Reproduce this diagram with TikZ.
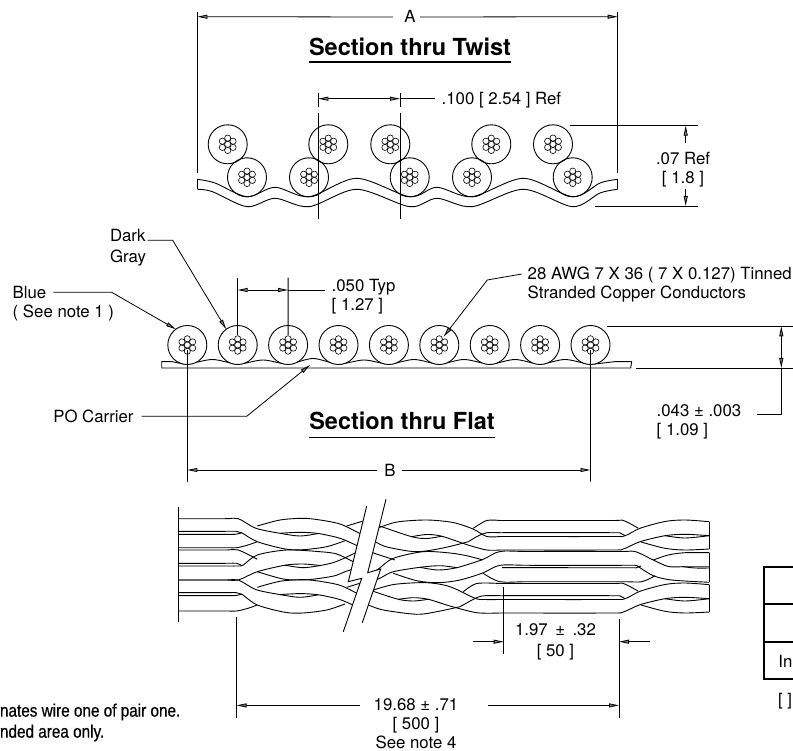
\documentclass[tikz,border=0pt]{standalone}
\usepackage{fontspec}
\setmainfont{TeX Gyre Heros}
\newfontfamily\notefont[FakeStretch=0.85,FakeBold=0.5]{Liberation Sans}
\usetikzlibrary{arrows.meta}

\tikzset{
    dimtip/.tip={Triangle[length=10pt,width=4pt,fill=gray]},
    dim/.style={line width=.8pt},
    wire/.style={line width=.9pt,tension=.5},
    cable/.style={circle,draw,line width=.9pt,minimum size=39pt,inner sep=0pt,outer sep=0pt},
    strand/.style={line width=.6pt},
    txt/.style={inner sep=0pt,outer sep=0pt,text height=12pt,text depth=0pt},
    txtblock/.style={inner sep=0pt,outer sep=0pt,align=left,anchor=north west},
    title/.style={inner sep=0pt,outer sep=0pt,text height=17pt,text depth=0pt,font=\fontsize{23.5}{26}\selectfont\bfseries},
    titlerule/.style={line width=1.6pt},
    notetxt/.style={inner sep=0pt,outer sep=0pt,anchor=west,font=\fontsize{18}{20}\notefont},
    tablerule/.style={line width=2.2pt}
}
\newcommand{\strands}[1]{
    \draw[strand] (#1.center) circle (3.1pt);
    \foreach \a in {30,90,...,330} {
        \draw[strand] ([shift={(\a:6.2pt)}]#1.center) circle (3.1pt);
    }
}

\begin{document}
\begin{tikzpicture}[x=1pt,y=-1pt,font=\fontsize{16.8}{19}\selectfont]
    \useasboundingbox (0,0) rectangle (793,751);
    \clip (0,0) rectangle (793,751);

    % section thru twist
    \node[txt] (dimA) at (410,17) {A};
    \node[title] (titleTwist) at (410,46.7) {Section thru Twist};
    \draw[titlerule] ([yshift=-7pt]titleTwist.south west) -- ([yshift=-7pt]titleTwist.south east);
    \coordinate (twistL) at (197.3,16.7);
    \coordinate (twistR) at (617.7,16.7);
    \draw[dim] (197.3,12) -- (197.3,173);
    \draw[dim] (617.7,12) -- (617.7,173);
    \draw[dim,-dimtip] ([xshift=-17pt]dimA.center) -- (twistL);
    \draw[dim,-dimtip] ([xshift=10pt]dimA.center) -- (twistR);

    \draw[wire] plot[smooth] coordinates {(197.3,179.3)(215,183)(247,196.7)(275,187.3)(309,196.7)(356.7,178.3)(409.7,196.7)(436.7,187.3)(472,196.7)(523.3,178.3)(572.7,196.7)(600,183)(617.7,179.3)};
    \draw[wire] plot[smooth] coordinates {(197.3,189.3)(212,191.5)(247,206.7)(275,198.3)(309,206.7)(356.7,189.3)(409.7,206.7)(437,198.3)(472,206.7)(523.3,189.3)(572.7,206.7)(600,193)(617.7,189.3)};
    \draw[wire] (197.3,179.3) -- (197.3,189.3);
    \draw[wire] (617.7,179.3) -- (617.7,189.3);

    \foreach \n/\x/\y in {1/227.7/144.3,2/328.3/144.3,3/390.3/144.3,4/491.3/144.3,5/553/144.3,6/247/177.3,7/309/177.3,8/409.7/177.3,9/472/177.3,10/572.7/177.3} {
        \node[cable] (twist\n) at (\x,\y) {};
        \strands{twist\n}
    }

    \node[txt,anchor=west] (pitchTwist) at (441.7,98.5) {.100 [ 2.54 ] Ref};
    \coordinate (pitchL) at (318.3,98.7);
    \coordinate (pitchR) at (400,98.7);
    \draw[dim] (318.3,93) -- (318.3,107);
    \draw[dim] (400,93) -- (400,107);
    \draw[dim] (318.3,113) -- (318.3,219);
    \draw[dim] (400,113) -- (400,219);
    \draw[dim,dimtip-dimtip] (pitchL) -- (pitchR);
    \draw[dim] (pitchR) -- (435,98.7);

    \node[txtblock,align=center,anchor=north] (heightTwist) at (683,152.3) {.07 Ref\\{[ 1.8 ]}};
    \draw[dim] (570,125.7) -- (697.7,125.7);
    \draw[dim] (595,206) -- (697.7,206);
    \coordinate (heightTop) at (685.7,125.7);
    \coordinate (heightBot) at (685.7,206);
    \draw[dim,-dimtip] (685.7,143.3) -- (heightTop);
    \draw[dim,-dimtip] (685.7,189.3) -- (heightBot);

    % section thru flat
    \draw[wire,fill=white] plot[smooth] coordinates {(161.7,361.7)(172,361.7)(187.3,364)(212.5,359.5)(237.7,364)(263,360)(288,364)(313,358.5)(338.5,364)(364,360)(389,364)(414,359.5)(439,364)(464,359.5)(490,364)(515,359.5)(540,364)(565,359.5)(590,364)(615,361.7)(631.7,361.7)} -- (630.7,368) -- (161.7,368) -- cycle;
    \foreach \n [evaluate=\n as \xx using 187.3+50.4*(\n-1)] in {1,...,9} {
        \node[cable,fill=white] (flat\n) at (\xx,345) {};
        \strands{flat\n}
    }

    \node[title] (titleFlat) at (402,421) {Section thru Flat};
    \draw[titlerule] ([yshift=-8pt]titleFlat.south west) -- ([yshift=-8pt]titleFlat.south east);

    \node[txtblock] (gray) at (110,229.7) {Dark\\[2pt]Gray};
    \coordinate (grayFrom) at (147.7,240.3);
    \draw[dim,-dimtip] (grayFrom) -- (172.7,240.3) -- (flat2.126);

    \node[txtblock] (blue) at (12.7,286.3) {Blue\\( See note 1 )};
    \coordinate (blueFrom) at (53.3,292.3);
    \draw[dim,-dimtip] (blueFrom) -- (111.7,292.3) -- (flat1.126);

    \node[txt,anchor=west] (carrier) at (53.3,416.3) {PO Carrier};
    \coordinate (carrierTip) at (310,365);
    \draw[dim,-dimtip] ([xshift=8pt]carrier.east) -- (246.7,416.3) -- (carrierTip);

    \node[txtblock] (pitchFlat) at (331.7,279.7) {.050 Typ\\{[ 1.27 ]}};
    \draw[dim] ([yshift=10pt]flat2.center) -- (237.7,277.7);
    \draw[dim] ([yshift=10pt]flat3.center) -- (288.1,277.7);
    \coordinate (flatPitchL) at (237.7,290);
    \coordinate (flatPitchR) at (288.1,290);
    \draw[dim,dimtip-dimtip] (flatPitchL) -- (flatPitchR);
    \draw[dim] (flatPitchR) -- (325,290);

    \node[txtblock] (awg) at (527.7,267.3) {28 AWG 7 X 36 ( 7 X 0.127) Tinned\\[-.6pt]Stranded Copper Conductors};
    \draw[dim,-dimtip] ([shift={(-6pt,-6.7pt)}]awg.north west) -- (487.3,280) -- ([shift={(4.3pt,8.3pt)}]flat6.center);

    \node[txtblock] (thick) at (656.7,404.7) {.043 ± .003\\[-.4pt]{[ 1.09 ]}};
    \draw[dim] (606.7,326.3) -- (793,326.3);
    \draw[dim] (636,368) -- (793,368);
    \coordinate (thickTop) at (781.3,326.3);
    \coordinate (thickBot) at (781.3,368);
    \draw[dim,dimtip-dimtip] (thickTop) -- (thickBot);
    \draw[dim] (thickBot) -- (781.3,414.3) -- (756.7,414.3);

    \node[txt] (dimB) at (390,470) {B};
    \coordinate (flatL) at (187.3,470);
    \coordinate (flatR) at (590.5,470);
    \draw[dim] ([yshift=-5pt]flat1.center) -- (187.3,481.7);
    \draw[dim] ([yshift=-5pt]flat9.center) -- (590.5,481.7);
    \draw[dim,-dimtip] ([xshift=-13pt]dimB.center) -- (flatL);
    \draw[dim,-dimtip] ([xshift=12pt]dimB.center) -- (flatR);

    % twisted ribbon, left of the break
    \draw[wire] (178.3,507.3) -- (178.3,621.7);
    \foreach \yo/\yb in {0/0,61.3/2} {
        \begin{scope}[yshift=-\yo pt]
            \draw[wire] plot[smooth] coordinates {(178.3,518.7)(225,518.7)(238.3,518.7)(256,528.3)(280,533.3)(300,536)(318.3,533.5)};
            \draw[wire] plot[smooth] coordinates {(280,533.3)(300,532.3)(318.3,533.5)(340,538.3)(358,546)(366,549)};
            \draw[wire] plot[smooth] coordinates {(178.3,531.3)(225,531.3)(236,531.3)(241.7,532.8)(257.3,541.7+\yb)(285,549+\yb)(303,549.7+\yb)(326.7,546.7+\yb)(345,540.7+\yb)};
            \draw[wire] plot[smooth] coordinates {(178.3,534.3)(225,534.3)(235,534.3)(241.7,532.8)};
            \draw[wire] plot[smooth] coordinates {(178.3,547.7+\yb)(225,547.7+\yb)(236.7,547.7+\yb)(248,545+\yb)(257.3,541.7+\yb)};
            \draw[wire] plot[smooth] coordinates {(257.3,526)(280,520)(303,518.3)(320,520)(340,524)(358.3,532.7)(366,537)};
            \draw[wire] plot[smooth] coordinates {(346.7,526)(363.3,521)(370,519.5)};
        \end{scope}
    }
    \draw[wire] plot[smooth] coordinates {(178.3,550)(225,550)(238.3,550)(257.3,559.3)};
    \draw[wire] plot[smooth] coordinates {(178.3,563.3)(225,563.3)(236.7,563.3)(241.7,565.7)};
    \draw[wire] plot[smooth] coordinates {(178.3,566)(225,566)(238.3,566)(243.3,565)(257.3,555)(286.7,550)(320,551.7)(336.7,554)(353.3,561.7)(360,565)};
    \draw[wire] plot[smooth] coordinates {(178.3,580)(225,580)(238.3,580)(257.3,571.7)(285,565.2)(303,564)(320,565.5)};
    \draw[wire] plot[smooth] coordinates {(285,565.2)(303,567.7)(320,565.5)(333,562.7)(344,558.3)(353,554)(362,551)};
    \draw[wire] plot[smooth] coordinates {(257.3,571.7)(283,579)(303,580)(320,578.3)(335,575.7)(345,571.7)(352,569.3)(360,566)};

    % twisted ribbon, right of the break
    \draw[wire] plot[smooth] coordinates {(372,530)(378,528)(397,522)(426.7,520)(453,522.5)(473,529)(486.7,536.5)(500,536.5)};
    \draw[wire] plot[smooth] coordinates {(411.7,536.7)(426.7,534.5)(441.7,536.2)(468,545)(486.7,550)(500,550)};
    \draw[wire] plot[smooth] coordinates {(372,523.5)(381.7,526.7)(411.7,536.7)(426.7,538.5)(441.7,536.2)};
    \draw[wire] plot[smooth] coordinates {(366,538)(375,541.7)(387,547)(416,551.7)(443,548)(468.3,541.7)};
    \draw[wire] plot[smooth] coordinates {(473.3,528.3)(486.7,520.5)(500,520.5)};
    \draw[wire] plot[smooth] coordinates {(468.3,541.7)(478,536)(487,532.7)(500,532.7)};

    \draw[wire] plot[smooth] coordinates {(372,573)(379.3,568.3)(393.3,558.3)(423,551.7)(450,553)(468,556)(482.7,560)};
    \draw[wire] plot[smooth] coordinates {(374,581)(381.7,577.3)(393.3,571.7)(420,567.3)(440,565.7)(456.7,567.7)};
    \draw[wire] plot[smooth] coordinates {(368,551)(374.3,553.3)(395,560)};
    \draw[wire] plot[smooth] coordinates {(420,567.3)(438,570)(456.7,567.7)(482.7,559.5)(500,551.5)(530,551.5)(620,551.5)(635,551.5)(653.3,560)(668.3,566.5)(685,566.7)(709.3,566.7)};
    \draw[wire] plot[smooth] coordinates {(393.3,573.3)(416.7,580.7)(438,582.7)(460,580)(482.7,573)(500,565.3)(530,565.3)(620,565.3)(635,565.3)(638.3,566.7)(653.3,575.7)(671.7,580)(709.3,582.3)};
    \draw[wire] plot[smooth] coordinates {(482.7,573)(500,581.7)(530,581.7)(620,581.7)(641.7,581.7)(655,575.7)};
    \draw[wire] (502,567.6) -- (636,567.8) -- (641,566);
    \draw[wire] plot[smooth] coordinates {(653.3,560)(668.3,555)(685,552.7)(709.3,552.7)};
    \draw[wire] plot[smooth] coordinates {(681.7,566.5)(695,568)(709.3,568)};

    \draw[wire] plot[smooth] coordinates {(368,592)(373.3,590)(395,584.3)(426.7,582.7)(450,586.7)(475,598.3)(485,599.5)(500,599.5)};
    \draw[wire] plot[smooth] coordinates {(398.3,599.3)(413.3,597.7)(428.3,599.3)(450,606)(476.7,612.7)(500,613)};
    \draw[wire] plot[smooth] coordinates {(368,589.5)(374.3,591.7)(398.3,599.3)(413.3,601)(428.3,599.3)};
    \draw[wire] plot[smooth] coordinates {(360,602)(368.3,605)(383.3,610)(416.7,614.3)(436.7,611.7)(460,606.7)};
    \draw[wire] plot[smooth] coordinates {(463.3,591.7)(476.7,583.5)(500,583.5)};
    \draw[wire] plot[smooth] coordinates {(460,606.7)(477,597.5)(485,595.7)(500,595.7)};

    \foreach \yo in {0,63} {
        \begin{scope}[yshift=-\yo pt]
            \draw[wire] plot[smooth] coordinates {(500,520.5)(610,520.5)(623.3,520.5)(638.3,528.3)};
            \draw[wire] plot[smooth] coordinates {(500,532.7)(610,532.7)(620,533)(625,535.7)};
            \draw[wire] plot[smooth] coordinates {(500,536.5)(610,536.5)(625,535.7)(640,528.3)(665,521.5)(685,520)(709.3,521.7)};
            \draw[wire] plot[smooth] coordinates {(500,550)(610,550)(623.3,549)(640,541.7)(665,535.7)(685,534.3)(709.3,535.7)};
            \draw[wire] plot[smooth] coordinates {(641,542)(665,548.3)(685,550)(709.3,549)};
            \draw[wire] plot[smooth] coordinates {(665,535.7)(685,538)(709.3,535.7)};
        \end{scope}
    }
    \draw[wire] (709.3,521.7) -- (709.3,549);
    \draw[wire] (709.3,552.7) -- (709.3,582.3);
    \draw[wire] (709.3,584.7) -- (709.3,612);

    % break across the ribbon
    \fill[white] (366.7,506) -- (348.3,581.7) -- (361.7,578.3) -- (343.3,631.7) -- (362.3,622.7) -- (380.7,569) -- (367.7,572.7) -- (386,499.3) -- cycle;
    \draw[wire] (366.7,506) -- (348.3,581.7) -- (361.7,578.3) -- (343.3,631.7);
    \draw[wire] (386,499.3) -- (367.7,572.7) -- (380.7,569) -- (362.3,622.7);

    % lengths
    \node[txtblock,align=center,anchor=north] (twistLen) at (555.5,623.3) {1.97\, ±\, .32\\[2pt]{[ 50 ]}};
    \coordinate (twistLenL) at (503.7,641.7);
    \coordinate (twistLenR) at (619,641.7);
    \draw[dim] (503.7,587.3) -- (503.7,654);
    \draw[dim,-dimtip] (473.3,641.7) -- (twistLenL);
    \draw[dim,-dimtip] (650,641.7) -- (twistLenR);

    \node[txtblock,align=center,anchor=north] (totalLen) at (416,698.4) {19.68 ± .71\\{[ 500 ]}\\See note 4};
    \coordinate (totalLenL) at (236.5,705.4);
    \coordinate (totalLenR) at (619,705.4);
    \draw[dim] (236.5,616.7) -- (236.5,718);
    \draw[dim] (619,619.3) -- (619,718);
    \draw[dim,-dimtip] (360,705.4) -- (totalLenL);
    \draw[dim,-dimtip] (488,705.4) -- (totalLenR);

    % cut off notes and table
    \node[notetxt] (noteOne) at (0,712) {nates wire one of pair one.};
    \node[notetxt] (noteTwo) at (0,733) {nded area only.};

    \draw[tablerule] (793,567.3) -- (764,567.3) -- (764,679.3) -- (793,679.3);
    \draw[tablerule] (764,604.3) -- (793,604.3);
    \draw[tablerule] (764,642.3) -- (793,642.3);
    \node[txt,anchor=east] (tableCell) at (792.5,661.7) {In};
    \node[txt,anchor=west] (tableNote) at (778,699) {[ ]};
\end{tikzpicture}
\end{document}
